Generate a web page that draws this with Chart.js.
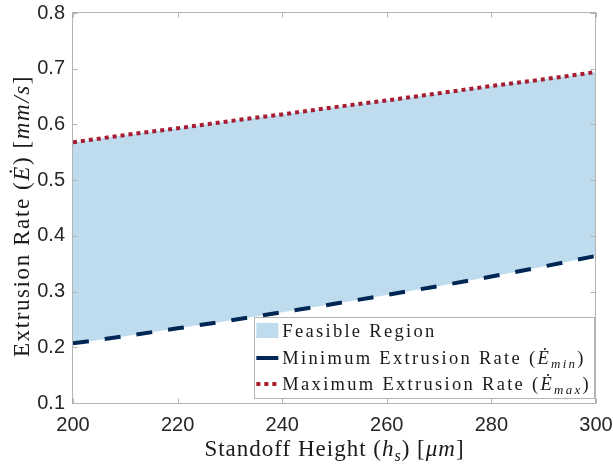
<!DOCTYPE html>
<html>
<head>
<meta charset="utf-8">
<script src="https://cdn.jsdelivr.net/npm/chart.js@4.4.0/dist/chart.umd.min.js"></script>
<style>
html,body{margin:0;padding:0;background:#fff;}
#wrap{width:613px;height:464px;}
</style>
</head>
<body>
<div id="wrap"><canvas id="extrusionChart" width="613" height="464"></canvas></div>
<script>
// values
const standoffHeights = [200, 210, 220, 230, 240, 250, 260, 270, 280, 290, 300];
const minRate = [0.207, 0.220, 0.234, 0.248, 0.263, 0.278, 0.294, 0.310, 0.327, 0.345, 0.364];
const maxRate = [0.568, 0.581, 0.593, 0.606, 0.618, 0.631, 0.643, 0.656, 0.669, 0.681, 0.694];
const xTicks = [200, 220, 240, 260, 280, 300];
const yTicks = [0.1, 0.2, 0.3, 0.4, 0.5, 0.6, 0.7, 0.8];

// text pieces (it = italic, sub = subscript)
const xTitle = [{t:'Standoff Height ('}, {t:'h', it:true}, {t:'s', it:true, sub:true}, {t:') ['}, {t:'μm', it:true}, {t:']'}];
const yTitle = [{t:'Extrusion Rate ('}, {t:'Ė', it:true}, {t:') ['}, {t:'mm/s', it:true}, {t:']'}];
const legendItems = [
    [{t:'Feasible Region'}],
    [{t:'Minimum Extrusion Rate ('}, {t:'Ė', it:true}, {t:'min', it:true, sub:true}, {t:')'}],
    [{t:'Maximum Extrusion Rate ('}, {t:'Ė', it:true}, {t:'max', it:true, sub:true}, {t:')'}]
];

const fillColor = 'rgb(190,220,238)';
const minColor = 'rgb(0,38,84)';
const maxColor = 'rgb(166,28,48)';
const axisColor = '#b3b3b3';
const serif = '"Liberation Serif", serif';
const sans = '"Liberation Sans", Arial, sans-serif';

function setFont(ctx, r, size, ls){
    const s = r.sub ? size * 0.7 : size;
    ctx.font = (r.it ? 'italic ' : '') + s + 'px ' + serif;
    ctx.letterSpacing = ls + 'px';
}

function richWidth(ctx, runs, size, ls){
    let w = 0;
    runs.forEach(r => { setFont(ctx, r, size, ls); w += ctx.measureText(r.t).width; });
    return w;
}

function drawRich(ctx, runs, x, y, size, ls){
    let cx = x;
    runs.forEach(r => {
        setFont(ctx, r, size, ls);
        ctx.fillText(r.t, cx, y + (r.sub ? size * 0.22 : 0));
        cx += ctx.measureText(r.t).width;
    });
}

const frame = {
    id: 'frame',
    afterDatasetsDraw(chart){
        const ctx = chart.ctx;
        const a = chart.chartArea;
        const L = Math.round(a.left) - 0.5, R = Math.round(a.right) - 0.5;
        const T = Math.round(a.top) - 0.5, B = Math.round(a.bottom) + 0.5;
        ctx.save();
        ctx.strokeStyle = axisColor;
        ctx.lineWidth = 1;
        ctx.strokeRect(L, T, R - L, B - T);
        ctx.beginPath();
        xTicks.forEach(v => {
            const px = Math.round(chart.scales.x.getPixelForValue(v)) + 0.5;
            ctx.moveTo(px, B); ctx.lineTo(px, B - 5);
            ctx.moveTo(px, T); ctx.lineTo(px, T + 5);
        });
        yTicks.forEach(v => {
            const py = Math.round(chart.scales.y.getPixelForValue(v)) + 0.5;
            ctx.moveTo(L, py); ctx.lineTo(L + 5, py);
            ctx.moveTo(R, py); ctx.lineTo(R - 5, py);
        });
        ctx.stroke();
        ctx.restore();
    },
    afterDraw(chart){
        const ctx = chart.ctx;
        const a = chart.chartArea;
        ctx.save();
        ctx.fillStyle = '#1a1a1a';
        ctx.textBaseline = 'alphabetic';
        ctx.textAlign = 'left';
        // axis titles
        const tsize = 23;
        const xw = richWidth(ctx, xTitle, tsize, 1);
        drawRich(ctx, xTitle, (a.left + a.right) / 2 - xw / 2, a.bottom + 53, tsize, 1);
        const yw = richWidth(ctx, yTitle, tsize, 1.6);
        ctx.save();
        ctx.translate(28.5, (a.top + a.bottom) / 2 + 8);
        ctx.rotate(-Math.PI / 2);
        drawRich(ctx, yTitle, -yw / 2, 0, tsize, 1.6);
        ctx.restore();

        // legend box
        const lsize = 18.5, lls = 2.3;
        let tw = 0;
        legendItems.forEach(it => { tw = Math.max(tw, richWidth(ctx, it, lsize, lls)); });
        const bw = 2 + 22 + 4 + tw + 4;
        const bh = 82;
        const bx = Math.round(a.right) - 1 - bw;
        const by = Math.round(a.bottom) - 4 - bh;
        ctx.fillStyle = '#fff';
        ctx.fillRect(bx, by, bw, bh);
        ctx.strokeStyle = axisColor;
        ctx.lineWidth = 1;
        ctx.strokeRect(Math.round(bx) + 0.5, by + 0.5, Math.round(bw) - 1, bh - 1);
        const sx = bx + 2;
        const rowY = [by + 14, by + 41, by + 67];
        // samples
        ctx.fillStyle = fillColor;
        ctx.fillRect(sx, rowY[0] - 8, 22, 15);
        ctx.lineWidth = 4;
        ctx.lineCap = 'butt';
        ctx.strokeStyle = minColor;
        ctx.beginPath(); ctx.moveTo(sx, rowY[1]); ctx.lineTo(sx + 22, rowY[1]); ctx.stroke();
        ctx.strokeStyle = maxColor;
        ctx.setLineDash([4, 4]);
        ctx.beginPath(); ctx.moveTo(sx, rowY[2]); ctx.lineTo(sx + 22, rowY[2]); ctx.stroke();
        ctx.setLineDash([]);
        ctx.fillStyle = '#1a1a1a';
        legendItems.forEach((it, i) => drawRich(ctx, it, sx + 26, rowY[i] + 6, lsize, lls));
        ctx.restore();
    }
};

const ctx = document.getElementById('extrusionChart').getContext('2d');
const chart = new Chart(ctx, {
    type: 'line',
    data: {
        datasets: [
            {
                label: 'Feasible Region',
                data: standoffHeights.map((h, i) => ({x: h, y: maxRate[i]})),
                borderWidth: 0,
                pointRadius: 0,
                backgroundColor: fillColor,
                fill: '+1'
            },
            {
                label: 'Minimum Extrusion Rate',
                data: standoffHeights.map((h, i) => ({x: h, y: minRate[i]})),
                borderColor: minColor,
                borderWidth: 4,
                borderDash: [16, 16],
                borderCapStyle: 'butt',
                pointRadius: 0,
                fill: false
            },
            {
                label: 'Maximum Extrusion Rate',
                data: standoffHeights.map((h, i) => ({x: h, y: maxRate[i]})),
                borderColor: maxColor,
                borderWidth: 4,
                borderDash: [4, 4],
                borderCapStyle: 'butt',
                pointRadius: 0,
                fill: false
            }
        ]
    },
    options: {
        responsive: false,
        animation: false,
        layout: {padding: {top: 13, right: 17, left: 0, bottom: 0}},
        plugins: {
            legend: {display: false},
            tooltip: {enabled: false},
            filler: {drawTime: 'beforeDatasetsDraw'}
        },
        scales: {
            x: {
                type: 'linear',
                min: 200,
                max: 300,
                grid: {display: false, drawTicks: false},
                border: {display: false},
                afterBuildTicks: s => { s.ticks = xTicks.map(v => ({value: v})); },
                afterFit: s => { s.height = 61; s.paddingLeft = 0; s.paddingRight = 0; },
                ticks: {
                    font: {family: sans, size: 20},
                    color: '#262626',
                    padding: 10,
                    maxRotation: 0,
                    autoSkip: false
                }
            },
            y: {
                min: 0.1,
                max: 0.8,
                grid: {display: false, drawTicks: false},
                border: {display: false},
                afterBuildTicks: s => { s.ticks = yTicks.map(v => ({value: v})); },
                afterFit: s => { s.width = 73; s.paddingTop = 0; s.paddingBottom = 0; },
                ticks: {
                    font: {family: sans, size: 20},
                    color: '#262626',
                    padding: 8,
                    callback: v => v.toFixed(1)
                }
            }
        }
    },
    plugins: [frame]
});
</script>
</body>
</html>
